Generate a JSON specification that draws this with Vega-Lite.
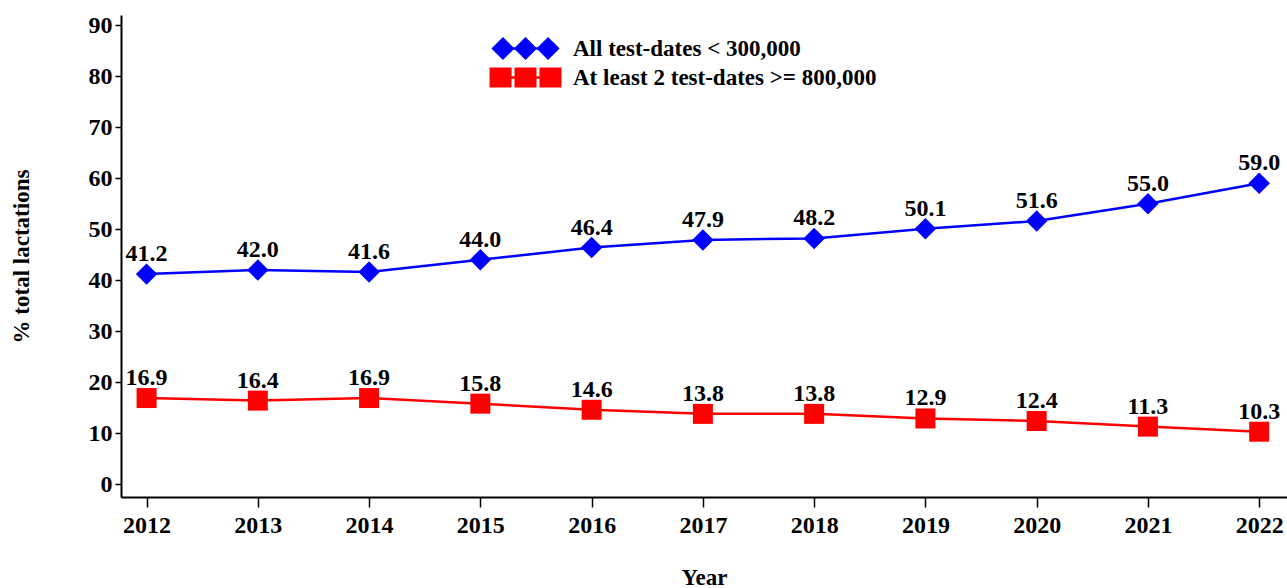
{
  "$schema": "https://vega.github.io/schema/vega-lite/v6.json",
  "width": 1166,
  "height": 482,
  "autosize": {"type": "none"},
  "padding": {"left": 121, "top": 15, "right": 0, "bottom": 91},
  "background": "white",
  "config": {
    "view": {"stroke": null},
    "font": "Liberation Serif",
    "axis": {
      "labelFont": "Liberation Serif", "labelFontWeight": "bold", "labelFontSize": 24, "labelColor": "black",
      "titleFont": "Liberation Serif", "titleFontWeight": "bold", "titleFontSize": 23, "titleColor": "black",
      "domainColor": "black", "domainWidth": 2, "tickColor": "black", "tickWidth": 1.5, "grid": false
    }
  },
  "data": {
    "values": [
      {"year": 2012, "series": "All test-dates < 300,000", "pct": 41.2},
      {"year": 2013, "series": "All test-dates < 300,000", "pct": 42.0},
      {"year": 2014, "series": "All test-dates < 300,000", "pct": 41.6},
      {"year": 2015, "series": "All test-dates < 300,000", "pct": 44.0},
      {"year": 2016, "series": "All test-dates < 300,000", "pct": 46.4},
      {"year": 2017, "series": "All test-dates < 300,000", "pct": 47.9},
      {"year": 2018, "series": "All test-dates < 300,000", "pct": 48.2},
      {"year": 2019, "series": "All test-dates < 300,000", "pct": 50.1},
      {"year": 2020, "series": "All test-dates < 300,000", "pct": 51.6},
      {"year": 2021, "series": "All test-dates < 300,000", "pct": 55.0},
      {"year": 2022, "series": "All test-dates < 300,000", "pct": 59.0},
      {"year": 2012, "series": "At least 2 test-dates >= 800,000", "pct": 16.9},
      {"year": 2013, "series": "At least 2 test-dates >= 800,000", "pct": 16.4},
      {"year": 2014, "series": "At least 2 test-dates >= 800,000", "pct": 16.9},
      {"year": 2015, "series": "At least 2 test-dates >= 800,000", "pct": 15.8},
      {"year": 2016, "series": "At least 2 test-dates >= 800,000", "pct": 14.6},
      {"year": 2017, "series": "At least 2 test-dates >= 800,000", "pct": 13.8},
      {"year": 2018, "series": "At least 2 test-dates >= 800,000", "pct": 13.8},
      {"year": 2019, "series": "At least 2 test-dates >= 800,000", "pct": 12.9},
      {"year": 2020, "series": "At least 2 test-dates >= 800,000", "pct": 12.4},
      {"year": 2021, "series": "At least 2 test-dates >= 800,000", "pct": 11.3},
      {"year": 2022, "series": "At least 2 test-dates >= 800,000", "pct": 10.3}
    ]
  },
  "encoding": {
    "x": {
      "field": "year", "type": "quantitative",
      "scale": {"domain": [2011.77, 2022.25], "nice": false, "zero": false},
      "axis": {
        "title": "Year", "values": [2012, 2013, 2014, 2015, 2016, 2017, 2018, 2019, 2020, 2021, 2022],
        "format": "d", "tickSize": 10, "labelPadding": 6, "labelFlush": false, "labelOverlap": false,
        "titleY": 87, "titleBaseline": "alphabetic"
      }
    },
    "y": {
      "field": "pct", "type": "quantitative",
      "scale": {"domain": [-2.5, 92], "nice": false, "zero": false},
      "axis": {
        "title": "% total lactations", "values": [0, 10, 20, 30, 40, 50, 60, 70, 80, 90],
        "tickSize": 6, "labelPadding": 3, "labelFlush": false,
        "titleX": -100, "titleY": 241, "titleAngle": -90, "titleBaseline": "middle", "titleAlign": "center"
      }
    },
    "color": {
      "field": "series", "type": "nominal",
      "scale": {"domain": ["All test-dates < 300,000", "At least 2 test-dates >= 800,000"], "range": ["#0000FF", "#FF0000"]},
      "legend": {
        "title": null, "orient": "none", "legendX": 393, "legendY": 22,
        "symbolSize": 484, "symbolStrokeWidth": 0, "symbolOpacity": 1,
        "labelFont": "Liberation Serif", "labelFontWeight": "bold", "labelFontSize": 23, "labelColor": "black",
        "labelOffset": 36, "rowPadding": 5, "labelLimit": 600
      }
    }
  },
  "layer": [
    {
      "mark": {"type": "line", "strokeWidth": 2.5}
    },
    {
      "transform": [{"filter": "datum.series === 'All test-dates < 300,000'"}],
      "mark": {"type": "point", "filled": true, "opacity": 1, "size": 460, "shape": "diamond"}
    },
    {
      "transform": [{"filter": "datum.series !== 'All test-dates < 300,000'"}],
      "mark": {"type": "point", "filled": true, "opacity": 1, "size": 400, "shape": "square"}
    },
    {
      "transform": [{"filter": "datum.year > 3000"}],
      "mark": {"type": "point", "filled": true, "opacity": 1, "size": 484},
      "encoding": {
        "shape": {
          "field": "series", "type": "nominal",
          "scale": {
            "domain": ["All test-dates < 300,000", "At least 2 test-dates >= 800,000"],
            "range": [
              "M-3.1,0L-2.05,-1.05L-1,0L-2.05,1.05ZM-1.05,0L0,-1.05L1.05,0L0,1.05ZM1,0L2.05,-1.05L3.1,0L2.05,1.05ZM-2.5,-0.12L2.5,-0.12L2.5,0.12L-2.5,0.12Z",
              "M-3.27,-0.9L-1.27,-0.9L-1.27,0.9L-3.27,0.9ZM-1,-0.9L1,-0.9L1,0.9L-1,0.9ZM1.27,-0.9L3.27,-0.9L3.27,0.9L1.27,0.9ZM-2.5,-0.12L2.5,-0.12L2.5,0.12L-2.5,0.12Z"
            ]
          }
        }
      }
    },
    {
      "mark": {"type": "text", "font": "Liberation Serif", "fontWeight": "bold", "fontSize": 24, "dy": -13, "baseline": "alphabetic"},
      "encoding": {
        "text": {"field": "pct", "type": "quantitative", "format": ".1f"},
        "color": {"value": "black"}
      }
    }
  ]
}
